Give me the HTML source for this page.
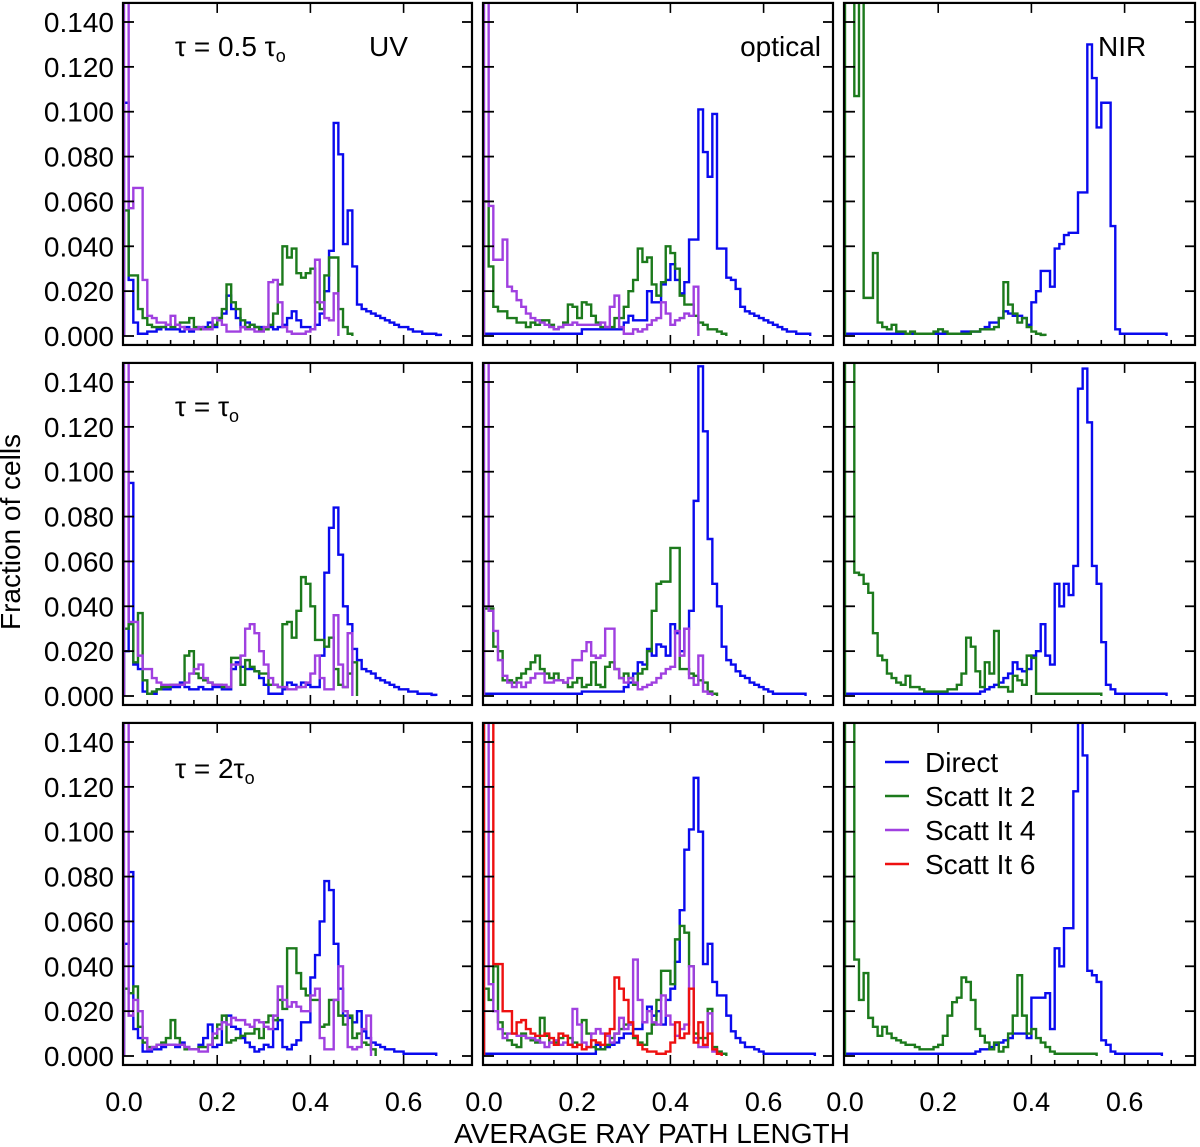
<!DOCTYPE html>
<html><head><meta charset="utf-8">
<style>
html,body{margin:0;padding:0;background:#fff;}
svg{display:block;font-family:"Liberation Sans",sans-serif;}
</style></head>
<body>
<svg id="chart" width="1200" height="1147" viewBox="0 0 1200 1147" xmlns="http://www.w3.org/2000/svg">
<text x="20" y="532" transform="rotate(-90 20 532)" font-size="28" text-anchor="middle">Fraction of cells</text>
<text x="652" y="1143" font-size="28" text-anchor="middle">AVERAGE RAY PATH LENGTH</text>
</svg>
<script>
// Tick labels
const yTicks = [0.000,0.020,0.040,0.060,0.080,0.100,0.120,0.140];
const xTicks = [0.0,0.2,0.4,0.6];
const binWidth = 0.01;
const seriesNames = ["Direct","Scatt It 2","Scatt It 4","Scatt It 6"];

// Row 1 (tau = 0.5 tau_o)
const r1uvDirect = [0.104,0.025,0.006,0.001,0.001,0.002,0.002,0.003,0.004,0.003,0.003,0.003,0.002,0.004,0.002,0.003,0.003,0.004,0.006,0.004,0.008,0.01,0.018,0.012,0.008,0.004,0.006,0.005,0.004,0.004,0.003,0.004,0.003,0.004,0.005,0.008,0.011,0.007,0.004,0.004,0.003,0.005,0.01,0.02,0.038,0.095,0.081,0.041,0.056,0.031,0.014,0.012,0.011,0.010,0.009,0.008,0.007,0.006,0.005,0.004,0.004,0.003,0.002,0.002,0.001,0.001,0.001,0.0005];
const r1uvScatt2 = [0.056,0.027,0.027,0.012,0.008,0.005,0.004,0.004,0.004,0.005,0.004,0.005,0.006,0.006,0.008,0.004,0.003,0.003,0.004,0.005,0.008,0.012,0.023,0.015,0.012,0.007,0.004,0.005,0.004,0.003,0.003,0.005,0.01,0.023,0.04,0.035,0.039,0.028,0.026,0.028,0.03,0.015,0.012,0.027,0.035,0.035,0.012,0.004,0.001];
const r1uvScatt4 = [0.15,0.057,0.066,0.066,0.025,0.009,0.008,0.006,0.006,0.005,0.009,0.005,0.004,0.003,0.003,0.003,0.004,0.003,0.003,0.008,0.007,0.005,0.002,0.002,0.002,0.004,0.003,0.003,0.002,0.002,0.004,0.024,0.025,0.015,0.004,0.002,0.001,0.001,0.001,0.002,0.003,0.034,0.015,0.008,0.007,0.019];
const r1optDirect = [0.001,0.001,0.001,0.001,0.001,0.001,0.001,0.001,0.001,0.001,0.001,0.001,0.001,0.001,0.001,0.001,0.001,0.001,0.001,0.001,0.001,0.003,0.003,0.003,0.003,0.003,0.003,0.003,0.003,0.003,0.006,0.009,0.007,0.007,0.007,0.02,0.015,0.015,0.023,0.025,0.032,0.025,0.019,0.024,0.043,0.043,0.101,0.082,0.071,0.099,0.039,0.039,0.026,0.025,0.021,0.013,0.011,0.010,0.009,0.008,0.007,0.006,0.005,0.004,0.003,0.002,0.002,0.001,0.001,0.001];
const r1optScatt2 = [0.06,0.031,0.013,0.011,0.011,0.008,0.008,0.006,0.006,0.004,0.006,0.005,0.007,0.007,0.005,0.003,0.004,0.006,0.014,0.013,0.008,0.015,0.014,0.009,0.006,0.004,0.004,0.004,0.008,0.008,0.013,0.02,0.025,0.039,0.033,0.035,0.023,0.018,0.024,0.04,0.037,0.03,0.018,0.014,0.014,0.009,0.006,0.005,0.003,0.003,0.002,0.001];
const r1optScatt4 = [0.15,0.058,0.034,0.034,0.043,0.022,0.02,0.016,0.013,0.01,0.008,0.007,0.006,0.005,0.004,0.003,0.004,0.005,0.005,0.006,0.005,0.005,0.005,0.005,0.005,0.006,0.004,0.013,0.018,0.004,0.001,0.001,0.003,0.002,0.003,0.005,0.007,0.008,0.015,0.01,0.005,0.007,0.008,0.01,0.009,0.022];
const r1nirDirect = [0.001,0.001,0.001,0.001,0.001,0.001,0.001,0.001,0.001,0.001,0.001,0.001,0.001,0.001,0.001,0.001,0.001,0.001,0.001,0.001,0.001,0.001,0.001,0.001,0.001,0.002,0.002,0.002,0.002,0.003,0.004,0.006,0.006,0.008,0.011,0.01,0.009,0.009,0.008,0.005,0.015,0.02,0.029,0.029,0.022,0.039,0.041,0.045,0.046,0.046,0.064,0.064,0.130,0.115,0.093,0.104,0.104,0.049,0.003,0.001,0.001,0.001,0.001,0.001,0.001,0.001,0.001,0.001,0.001];
const r1nirScatt2 = [0.15,0.15,0.107,0.15,0.017,0.017,0.037,0.006,0.004,0.003,0.005,0.002,0.002,0.001,0.002,0.001,0.001,0.001,0.001,0.002,0.003,0.002,0.001,0.001,0.001,0.001,0.001,0.002,0.002,0.003,0.003,0.003,0.004,0.008,0.024,0.014,0.01,0.006,0.008,0.004,0.002,0.001,0.0005];

// Row 2 (tau = tau_o)
const r2uvDirect = [0.02,0.095,0.014,0.012,0.002,0.001,0.001,0.003,0.003,0.003,0.004,0.004,0.006,0.004,0.003,0.003,0.004,0.003,0.003,0.004,0.004,0.003,0.003,0.012,0.015,0.013,0.012,0.012,0.011,0.008,0.005,0.001,0.001,0.001,0.003,0.006,0.005,0.004,0.006,0.005,0.004,0.004,0.018,0.055,0.075,0.084,0.063,0.04,0.032,0.021,0.016,0.012,0.011,0.010,0.008,0.007,0.006,0.005,0.004,0.003,0.003,0.002,0.002,0.001,0.001,0.001,0.0005];
const r2uvScatt2 = [0.03,0.032,0.015,0.037,0.007,0.001,0.002,0.003,0.004,0.004,0.005,0.005,0.005,0.018,0.02,0.01,0.008,0.007,0.006,0.005,0.005,0.004,0.004,0.017,0.017,0.005,0.016,0.013,0.011,0.01,0.01,0.005,0.005,0.004,0.032,0.033,0.026,0.038,0.053,0.05,0.04,0.025,0.025,0.022,0.026,0.012,0.005,0.004,0.01,0.015];
const r2uvScatt4 = [0.15,0.033,0.033,0.018,0.012,0.012,0.008,0.006,0.005,0.005,0.005,0.005,0.005,0.006,0.01,0.012,0.014,0.008,0.006,0.005,0.005,0.005,0.004,0.014,0.014,0.018,0.03,0.032,0.028,0.02,0.014,0.008,0.005,0.004,0.004,0.003,0.003,0.004,0.004,0.006,0.01,0.018,0.008,0.003,0.003,0.036,0.014,0.004,0.028];
const r2optDirect = [0.001,0.001,0.001,0.001,0.001,0.001,0.001,0.001,0.001,0.001,0.001,0.001,0.001,0.001,0.001,0.001,0.001,0.001,0.001,0.001,0.001,0.002,0.002,0.002,0.002,0.002,0.002,0.002,0.002,0.002,0.004,0.006,0.01,0.015,0.014,0.021,0.018,0.023,0.022,0.018,0.032,0.028,0.02,0.03,0.038,0.087,0.147,0.118,0.07,0.05,0.04,0.022,0.016,0.014,0.011,0.009,0.008,0.006,0.005,0.004,0.003,0.002,0.001,0.001,0.001,0.001,0.001,0.001,0.001];
const r2optScatt2 = [0.039,0.039,0.022,0.02,0.007,0.007,0.006,0.008,0.01,0.012,0.015,0.018,0.012,0.01,0.008,0.01,0.007,0.006,0.004,0.006,0.008,0.004,0.005,0.015,0.005,0.004,0.013,0.015,0.012,0.008,0.01,0.008,0.005,0.01,0.012,0.02,0.038,0.05,0.051,0.051,0.066,0.066,0.012,0.012,0.01,0.009,0.007,0.006,0.002,0.001];
const r2optScatt4 = [0.15,0.038,0.029,0.016,0.009,0.006,0.004,0.006,0.004,0.006,0.008,0.01,0.01,0.006,0.006,0.007,0.007,0.006,0.008,0.016,0.016,0.02,0.024,0.018,0.017,0.018,0.03,0.03,0.012,0.008,0.006,0.008,0.006,0.003,0.004,0.005,0.006,0.008,0.01,0.012,0.013,0.029,0.018,0.03,0.008,0.005,0.018,0.002,0.001];
const r2nirDirect = [0.001,0.001,0.001,0.001,0.001,0.001,0.001,0.001,0.001,0.001,0.001,0.001,0.001,0.001,0.001,0.001,0.001,0.001,0.001,0.001,0.001,0.001,0.001,0.001,0.001,0.001,0.001,0.001,0.001,0.002,0.003,0.004,0.005,0.006,0.008,0.01,0.015,0.012,0.011,0.012,0.018,0.02,0.032,0.018,0.014,0.05,0.04,0.05,0.045,0.058,0.137,0.146,0.122,0.058,0.05,0.024,0.005,0.003,0.001,0.001,0.001,0.001,0.001,0.001,0.001,0.001,0.001,0.001,0.001];
const r2nirScatt2 = [0.15,0.15,0.055,0.054,0.05,0.046,0.028,0.018,0.016,0.01,0.008,0.006,0.005,0.009,0.004,0.004,0.003,0.002,0.002,0.002,0.002,0.002,0.003,0.003,0.005,0.01,0.026,0.022,0.011,0.004,0.015,0.01,0.029,0.004,0.004,0.002,0.009,0.007,0.005,0.018,0.017,0.001,0.001,0.001,0.001,0.001,0.001,0.001,0.001,0.001,0.001,0.001,0.001,0.001,0.001];

// Row 3 (tau = 2 tau_o)
const r3uvDirect = [0.05,0.082,0.012,0.008,0.002,0.002,0.003,0.003,0.004,0.005,0.005,0.004,0.006,0.004,0.003,0.003,0.005,0.008,0.014,0.004,0.005,0.015,0.018,0.013,0.012,0.008,0.006,0.004,0.002,0.003,0.005,0.004,0.012,0.016,0.004,0.003,0.005,0.007,0.015,0.015,0.035,0.045,0.06,0.078,0.074,0.05,0.03,0.018,0.017,0.015,0.02,0.011,0.008,0.006,0.005,0.004,0.003,0.003,0.002,0.002,0.001,0.001,0.001,0.001,0.001,0.001,0.001];
const r3uvScatt2 = [0.03,0.028,0.031,0.013,0.006,0.004,0.004,0.005,0.006,0.008,0.016,0.008,0.005,0.003,0.003,0.003,0.004,0.004,0.005,0.008,0.014,0.018,0.006,0.007,0.008,0.009,0.01,0.01,0.012,0.008,0.015,0.018,0.016,0.025,0.021,0.048,0.048,0.037,0.03,0.027,0.025,0.025,0.013,0.014,0.025,0.025,0.018,0.014,0.018,0.008,0.01,0.006,0.005,0.003];
const r3uvScatt4 = [0.15,0.018,0.025,0.02,0.008,0.003,0.004,0.005,0.005,0.005,0.005,0.005,0.005,0.004,0.003,0.003,0.002,0.002,0.005,0.01,0.012,0.015,0.014,0.017,0.016,0.016,0.014,0.013,0.016,0.015,0.013,0.012,0.018,0.031,0.025,0.022,0.024,0.022,0.02,0.02,0.027,0.03,0.008,0.003,0.003,0.025,0.04,0.02,0.004,0.003,0.004,0.012,0.018];
const r3optDirect = [0.001,0.001,0.001,0.001,0.001,0.001,0.001,0.001,0.001,0.001,0.001,0.001,0.001,0.001,0.001,0.001,0.001,0.001,0.001,0.001,0.001,0.001,0.001,0.001,0.005,0.003,0.004,0.005,0.006,0.008,0.01,0.01,0.012,0.012,0.015,0.022,0.018,0.02,0.014,0.025,0.03,0.042,0.065,0.092,0.101,0.124,0.1,0.041,0.05,0.033,0.027,0.027,0.018,0.011,0.008,0.006,0.004,0.004,0.003,0.002,0.001,0.001,0.001,0.001,0.001,0.001,0.001,0.001,0.001,0.001,0.001];
const r3optScatt2 = [0.03,0.025,0.04,0.015,0.01,0.007,0.005,0.004,0.01,0.008,0.007,0.006,0.017,0.009,0.006,0.006,0.008,0.009,0.008,0.006,0.005,0.016,0.01,0.004,0.003,0.003,0.005,0.008,0.01,0.012,0.014,0.014,0.008,0.006,0.005,0.01,0.014,0.025,0.038,0.038,0.032,0.052,0.058,0.055,0.04,0.01,0.008,0.008,0.021,0.004,0.002,0.001];
const r3optScatt4 = [0.15,0.032,0.02,0.012,0.008,0.01,0.01,0.009,0.009,0.008,0.008,0.007,0.006,0.004,0.006,0.007,0.005,0.006,0.005,0.021,0.014,0.006,0.004,0.01,0.012,0.01,0.009,0.006,0.01,0.017,0.012,0.014,0.043,0.025,0.015,0.02,0.015,0.014,0.027,0.018,0.014,0.009,0.012,0.014,0.04,0.008,0.004,0.004,0.019,0.002,0.001];
const r3optScatt6 = [0.15,0.15,0.041,0.041,0.02,0.02,0.01,0.015,0.016,0.012,0.01,0.009,0.009,0.01,0.008,0.005,0.01,0.009,0.005,0.004,0.005,0.003,0.004,0.007,0.006,0.005,0.01,0.012,0.035,0.03,0.025,0.015,0.009,0.005,0.003,0.002,0.002,0.001,0.001,0.002,0.006,0.015,0.008,0.01,0.03,0.006,0.015,0.005,0.01,0.003,0.001];
const r3nirDirect = [0.001,0.001,0.001,0.001,0.001,0.001,0.001,0.001,0.001,0.001,0.001,0.001,0.001,0.001,0.001,0.001,0.001,0.001,0.001,0.001,0.001,0.001,0.001,0.001,0.001,0.001,0.001,0.001,0.002,0.003,0.003,0.004,0.005,0.006,0.007,0.008,0.01,0.01,0.01,0.008,0.026,0.026,0.026,0.028,0.012,0.048,0.04,0.057,0.057,0.118,0.15,0.134,0.038,0.036,0.033,0.007,0.005,0.002,0.001,0.001,0.001,0.001,0.001,0.001,0.001,0.001,0.001,0.001];
const r3nirScatt2 = [0.15,0.15,0.043,0.025,0.037,0.017,0.013,0.009,0.013,0.01,0.008,0.007,0.006,0.005,0.005,0.004,0.003,0.003,0.003,0.004,0.005,0.009,0.018,0.024,0.026,0.035,0.033,0.025,0.012,0.009,0.006,0.003,0.006,0.002,0.004,0.01,0.018,0.036,0.018,0.01,0.012,0.008,0.006,0.004,0.002,0.001,0.001,0.001,0.001,0.001,0.001,0.001,0.001,0.001];

const NS = "http://www.w3.org/2000/svg";
const svg = document.getElementById("chart");
const colors = ["#0a0aee","#1c7a1c","#a040e0","#ee1010"];
const colX = [124, 484, 845];
const colRight = [472, 833, 1195];
const rowBase = [336, 696, 1056];
const yPerUnit = 314 / 0.14;
const xPerUnit = 466;
const panelTopOffset = 0.1485; const panelBotOffset = -0.004;

const panels = [
  [[r1uvDirect,r1uvScatt2,r1uvScatt4],[r1optDirect,r1optScatt2,r1optScatt4],[r1nirDirect,r1nirScatt2]],
  [[r2uvDirect,r2uvScatt2,r2uvScatt4],[r2optDirect,r2optScatt2,r2optScatt4],[r2nirDirect,r2nirScatt2]],
  [[r3uvDirect,r3uvScatt2,r3uvScatt4],[r3optDirect,r3optScatt2,r3optScatt4,r3optScatt6],[r3nirDirect,r3nirScatt2]]
];
const panelNames = ["uv","optical","nir"];

function mk(tag, attrs){ const e=document.createElementNS(NS,tag); for(const k in attrs) e.setAttribute(k,attrs[k]); return e; }

for(let r=0;r<3;r++){
  for(let c=0;c<3;c++){
    const x0=colX[c], x1=colRight[c], yb=rowBase[r];
    const X=v=>x0+v*xPerUnit, Y=v=>yb-v*yPerUnit;
    const top=Y(panelTopOffset), bot=Y(panelBotOffset);
    const g=mk("g",{});
    
    
    svg.appendChild(g);
    const cid="clip"+r+c;
    const cp=mk("clipPath",{id:cid}); cp.appendChild(mk("rect",{x:x0-2,y:top,width:x1-x0+2,height:bot-top})); g.appendChild(cp);
    const sg=mk("g",{"clip-path":"url(#"+cid+")"}); g.appendChild(sg);
    const ser=panels[r][c];
    for(let s=0;s<ser.length;s++){
      const data=ser[s];
      let d="M"+X(0)+","+Y(0);
      for(let i=0;i<data.length;i++){
        d+=" L"+X(i*binWidth)+","+Y(data[i])+" L"+X((i+1)*binWidth)+","+Y(data[i]);
      }
      d+=" L"+X(data.length*binWidth)+","+Y(0);
      const p=mk("path",{d:d,fill:"none",stroke:colors[s],"stroke-width":2.4});
      
      
      sg.appendChild(p);
    }
    const fr=mk("rect",{x:x0-1,y:top,width:x1-x0+1,height:bot-top,fill:"none",stroke:"#000","stroke-width":2.2});
    
    
    g.appendChild(fr);
    for(const t of yTicks){
      const y=Y(t);
      g.appendChild(mk("line",{x1:x0,x2:x0+10,y1:y,y2:y,stroke:"#000","stroke-width":1.8}));
      g.appendChild(mk("line",{x1:x1-10,x2:x1,y1:y,y2:y,stroke:"#000","stroke-width":1.8}));
      if(c===0){
        const tx=mk("text",{x:114,y:y+10,"font-size":28,"text-anchor":"end"});
        tx.textContent=t.toFixed(3);
        
        
        g.appendChild(tx);
      }
    }
    for(let k=1;k<15;k++){
      const t=k*0.05, x=X(t); const major=k%4===0;
      const L=major?10:5;
      g.appendChild(mk("line",{x1:x,x2:x,y1:bot,y2:bot-L,stroke:"#000","stroke-width":1.6}));
      if(major) g.appendChild(mk("line",{x1:x,x2:x,y1:top,y2:top+L,stroke:"#000","stroke-width":1.6}));
    }
    if(r===2){
      for(const t of xTicks){
        const tx=mk("text",{x:X(t),y:1111,"font-size":27,"text-anchor":"middle"});
        tx.textContent=t.toFixed(1);
        
        
        svg.appendChild(tx);
      }
    }
  }
}

function label(txt,x,y,name,anchor){
  const t=mk("text",{x:x,y:y,"font-size":28,"text-anchor":anchor||"start"});
  t.innerHTML=txt;
  
  
  svg.appendChild(t);
}
label('τ = 0.5 τ<tspan font-size="18" dy="6">o</tspan>',175,56,'tau-label-row1');
label('UV',369,56,'band-label-uv');
label('optical',821,56,'band-label-optical','end');
label('NIR',1098,56,'band-label-nir');
label('τ = τ<tspan font-size="18" dy="6">o</tspan>',175,416,'tau-label-row2');
label('τ = 2τ<tspan font-size="18" dy="6">o</tspan>',175,778,'tau-label-row3');

const lg=mk("g",{});


svg.appendChild(lg);
for(let i=0;i<4;i++){
  const y=762+i*34;
  const e=mk("g",{});
  
  
  e.appendChild(mk("line",{x1:885,x2:909,y1:y,y2:y,stroke:colors[i],"stroke-width":2.6}));
  const t=mk("text",{x:925,y:y+10,"font-size":28}); t.textContent=seriesNames[i];
  e.appendChild(t);
  lg.appendChild(e);
}
</script>
</body></html>
